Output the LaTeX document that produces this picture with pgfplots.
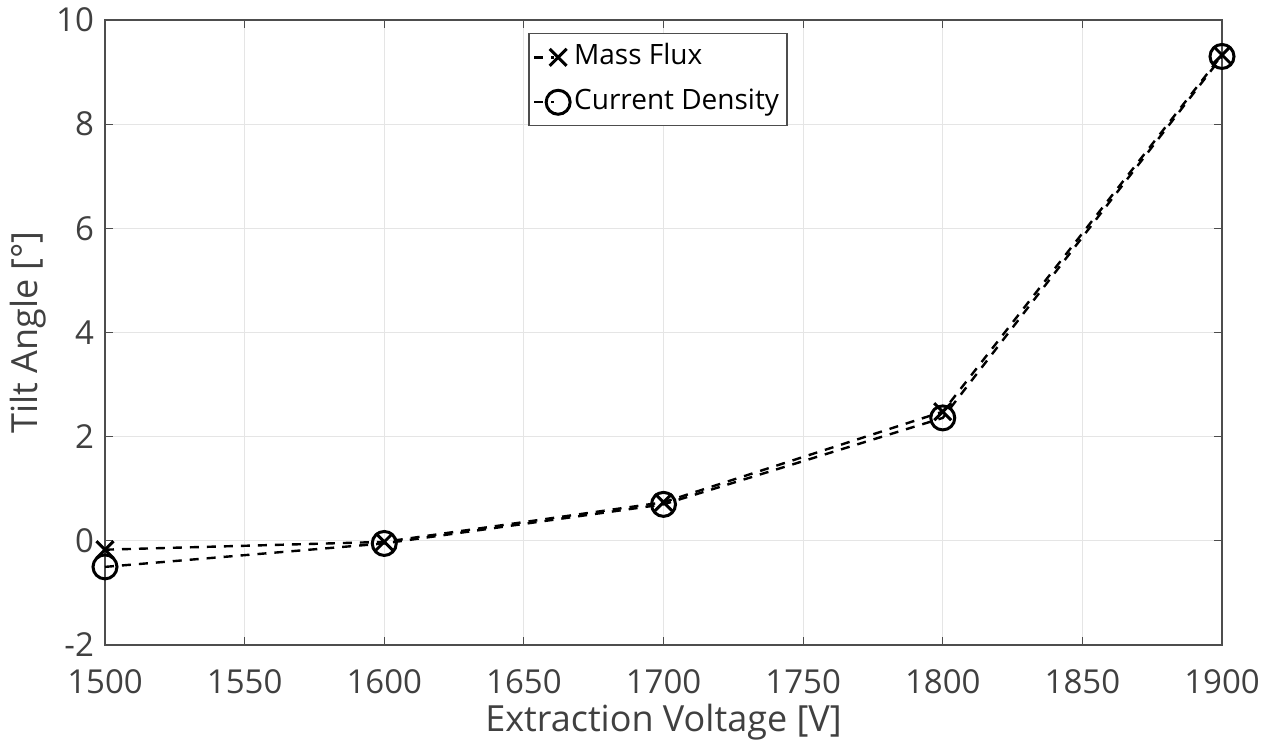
\documentclass[border=0pt]{standalone}
\usepackage{fontspec}
\setmainfont{Open Sans}
\usepackage{pgfplots}
\pgfplotsset{compat=1.18}
\definecolor{txt}{HTML}{404040}
\definecolor{ax}{HTML}{4D4D4D}
\begin{document}
\begin{tikzpicture}
\begin{axis}[
    scale only axis,
    width=558.5pt, height=312.5pt,
    xmin=1500, xmax=1900, ymin=-2, ymax=10,
    xtick={1500,1550,...,1900}, ytick={-2,0,...,10},
    grid=major, major grid style={color=black!10, line width=0.5pt},
    axis line style={color=ax, line width=0.7pt},
    tick style={color=ax, line width=0.6pt},
    tick align=inside, major tick length=4pt,
    /pgf/number format/assume math mode=true,
    /pgf/number format/1000 sep={},
    tick label style={font=\fontsize{16.5}{20}\selectfont, color=txt},
    xticklabel style={yshift=-9pt},
    yticklabel style={xshift=-2pt},
    label style={font=\fontsize{18}{22}\selectfont, color=txt},
    xlabel={Extraction Voltage [V]},
    ylabel={Tilt Angle [°]},
    xlabel style={yshift=2pt},
    ylabel style={yshift=-2pt},
    legend style={at={(0.379,0.979)}, anchor=north west,
        font=\fontsize{14}{17}\selectfont, draw=ax, line width=0.6pt,
        inner xsep=2pt, inner ysep=3pt, row sep=5pt,
        nodes={inner xsep=2pt, text depth=3pt},
        cells={anchor=west}},
    legend cell align=left,
    legend image code/.code={
        \draw[#1, mark=none] (0pt,0pt) -- (10pt,0pt);
        \draw[#1, only marks] plot coordinates {(12pt,0pt)};
    },
]
\addplot[black, line width=1.2pt, dash pattern=on 4.5pt off 4pt,
    mark=x, mark size=6pt, mark options={solid, line width=1.5pt}]
coordinates {(1500,-0.17) (1600,-0.02) (1700,0.74) (1800,2.48) (1900,9.33)};
\addlegendentry{Mass Flux\hspace{9pt}}
\addplot[black, line width=1.2pt, dash pattern=on 4.5pt off 4pt,
    mark=o, mark size=6pt, mark options={solid, line width=1.5pt}]
coordinates {(1500,-0.5) (1600,-0.05) (1700,0.7) (1800,2.36) (1900,9.3)};
\addlegendentry{Current Density\hspace{9pt}}
\end{axis}
\pgfresetboundingbox
\path (current axis.south west) ++(-52.5pt,-54pt) coordinate (bl);
\path (current axis.north east) ++(22pt,10pt) coordinate (tr);
\useasboundingbox (bl) rectangle (tr);
\end{tikzpicture}
\end{document}
